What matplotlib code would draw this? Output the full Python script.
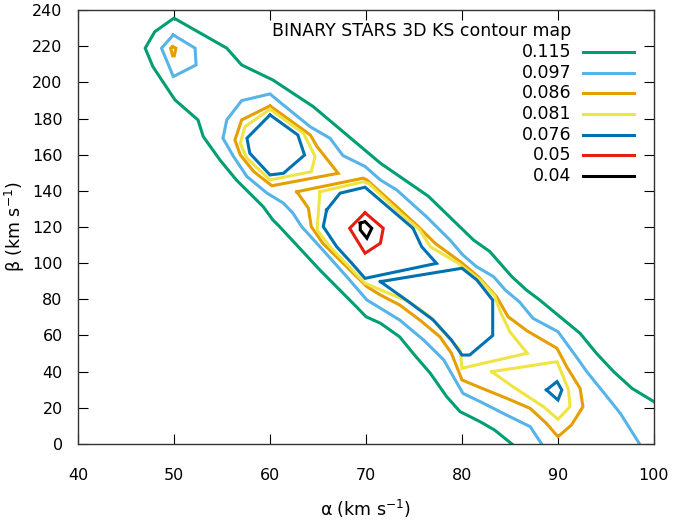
import matplotlib

matplotlib.use("Agg")
import matplotlib.pyplot as plt

plt.rcParams["font.family"] = ["DejaVu Sans"]
plt.rcParams["mathtext.default"] = "regular"

# contour levels and gnuplot-like colours
levels = ["0.115", "0.097", "0.086", "0.081", "0.076", "0.05", "0.04"]
colors = ["#009e73", "#56b4e9", "#e69f00", "#f0e442", "#0072b2", "#e51e10", "#000000"]

# 0.115 (one open curve, bottom edge -> top -> right edge)
green_x = [85.2, 83.4, 81.9, 79.8, 78.4, 76.7, 74.9, 73.5, 71.5, 70.0, 69.0, 65.2, 61.0,
           60.3, 59.3, 57.2, 56.5, 54.8, 53.05, 52.5, 50.1, 49.06, 47.8, 47.0, 48.0, 50.0,
           55.5, 57.05, 60.3, 64.5, 71.5, 76.5, 81.2, 82.9, 85.2, 86.7, 88.1, 90.2, 92.3,
           94.0, 95.8, 97.7, 100.0]
green_y = [0, 7.7, 12.3, 17.9, 26.2, 39.1, 50.2, 59.3, 66.8, 70.4, 75.9, 96.2, 120.2,
           123.9, 131.2, 142.3, 146.0, 157.0, 170.0, 179.2, 190.3, 198.6, 208.7, 218.9, 228.0, 235.5,
           218.9, 209.6, 201.3, 186.6, 155.3, 137.0, 112.8, 106.4, 92.5, 85.2, 79.6, 70.4, 61.2,
           50.2, 40.0, 30.8, 23.4]

# 0.097
lblue_x = [88.3, 87.1, 84.65, 81.9, 80.1, 79.3, 78.1, 76.0, 73.5, 71.5, 70.1, 68.0, 65.2,
           63.3, 62.4, 61.4, 59.7, 57.6, 56.2, 55.1, 55.5, 57.05, 60.0, 61.2, 64.2, 66.25,
           67.6, 69.9, 71.5, 73.2, 76.3, 78.75, 80.1, 81.5, 83.3, 84.5, 86.0, 87.4, 90.0,
           91.9, 93.0, 95.1, 96.5, 98.5]
lblue_y = [0, 9.6, 16.0, 23.4, 28.0, 35.4, 46.5, 57.5, 68.6, 75.1, 79.6, 92.5, 109.1,
           120.2, 127.6, 133.2, 138.7, 147.9, 159.0, 169.1, 179.2, 189.9, 193.6, 188.3, 175.4, 169.1,
           159.5, 153.5, 146.0, 140.5, 125.7, 112.8, 104.5, 98.1, 92.5, 85.2, 78.5, 69.5, 62.1,
           48.3, 40.0, 26.2, 16.9, 0]
lblue_top_x = [49.93, 48.7, 49.93, 52.3, 52.2, 49.93]
lblue_top_y = [226.2, 218.9, 203.2, 209.6, 218.9, 226.2]

# 0.086
orange_top_x = [49.86, 50.2, 50.03, 49.86, 49.65, 49.86]
orange_top_y = [219.7, 218.9, 214.6, 214.6, 218.9, 219.7]
orange_up_x = [60.0, 64.2, 64.9, 67.1, 60.2, 58.3, 56.9, 56.35, 57.05, 60.0]
orange_up_y = [187.0, 170.9, 164.5, 149.7, 142.8, 150.7, 159.9, 168.1, 179.2, 187.0]
orange_main_x = [62.8, 69.7, 70.1, 73.2, 75.45, 77.2, 79.9, 81.7, 83.6, 84.8, 86.8, 89.9,
                 90.9, 92.3, 92.6, 91.4, 90.0, 88.8, 87.1, 84.65, 81.9, 80.0, 78.9, 77.7,
                 75.6, 73.5, 71.5, 70.1, 65.5, 64.3, 64.0, 62.8]
orange_main_y = [139.5, 147.0, 146.0, 131.2, 120.2, 111.0, 100.5, 92.5, 81.5, 70.4, 62.5, 52.9,
                 42.8, 30.8, 20.6, 10.5, 4.0, 11.4, 19.7, 25.3, 31.2, 35.4, 50.2, 59.3,
                 68.6, 76.9, 82.4, 87.0, 111.0, 120.2, 130.4, 139.5]

# 0.081
yellow_up_x = [60.0, 63.5, 64.7, 64.3, 60.0, 57.6, 56.9, 57.4, 60.0]
yellow_up_y = [185.1, 171.8, 159.0, 150.6, 146.0, 158.0, 166.3, 175.5, 185.1]
yellow_main_x = [65.2, 69.7, 70.3, 73.2, 75.6, 76.7, 79.6, 81.9, 83.4, 84.0, 85.0, 86.8,
                 80.0, 79.8, 78.2, 76.7, 74.4, 72.8, 69.9, 66.25, 64.9, 65.2]
yellow_main_y = [139.5, 145.0, 144.0, 129.4, 118.4, 109.1, 100.0, 90.7, 82.0, 73.0, 62.0, 50.2,
                 41.9, 52.0, 61.2, 70.4, 79.0, 82.4, 88.9, 109.1, 118.4, 139.5]
yellow_low_x = [83.1, 89.9, 90.4, 91.1, 91.25, 90.0, 88.5, 85.3, 83.1]
yellow_low_y = [40.0, 45.5, 39.1, 29.9, 20.6, 13.7, 20.6, 31.7, 40.0]

# 0.076
blue_up_x = [60.0, 62.9, 63.6, 61.4, 60.0, 57.9, 57.6, 60.0]
blue_up_y = [182.0, 170.9, 159.8, 149.7, 148.8, 160.8, 169.1, 182.0]
blue_mid_x = [65.9, 67.3, 69.9, 74.9, 75.8, 77.35, 69.9, 68.5, 66.95, 65.55, 65.9]
blue_mid_y = [129.4, 138.7, 142.0, 119.3, 109.1, 99.9, 91.6, 100.1, 109.1, 120.2, 129.4]
blue_low_x = [71.5, 80.0, 81.55, 83.2, 83.2, 80.8, 80.0, 78.9, 77.0, 74.2, 71.5]
blue_low_y = [89.8, 97.2, 90.7, 79.6, 60.0, 49.2, 49.2, 57.5, 68.6, 79.6, 89.8]
blue_small_x = [88.8, 89.9, 90.4, 90.0, 88.8]
blue_small_y = [29.9, 34.5, 29.9, 24.3, 29.9]

# 0.05 and 0.04
red_x = [69.9, 68.3, 69.9, 71.5, 71.8, 69.9]
red_y = [127.9, 119.3, 105.5, 111.0, 119.3, 127.9]
black_x = [69.4, 69.9, 70.6, 70.1, 69.4, 69.4]
black_y = [122.1, 123.0, 119.3, 113.8, 118.4, 122.1]

curves = [
    (0, green_x, green_y),
    (1, lblue_x, lblue_y), (1, lblue_top_x, lblue_top_y),
    (2, orange_top_x, orange_top_y), (2, orange_up_x, orange_up_y), (2, orange_main_x, orange_main_y),
    (3, yellow_up_x, yellow_up_y), (3, yellow_main_x, yellow_main_y), (3, yellow_low_x, yellow_low_y),
    (4, blue_up_x, blue_up_y), (4, blue_mid_x, blue_mid_y), (4, blue_low_x, blue_low_y),
    (4, blue_small_x, blue_small_y),
    (5, red_x, red_y), (6, black_x, black_y),
]

fs = 12.5

fig = plt.figure(figsize=(6.74, 5.21), dpi=100)
ax = fig.add_axes([0.1157, 0.1478, 0.8546, 0.833])

for i, xs, ys in curves:
    ax.plot(xs, ys, color=colors[i], lw=2.2, solid_joinstyle="miter")

ax.set_xlim(40, 100)
ax.set_ylim(0, 240)
ax.set_xticks(range(40, 101, 10))
ax.set_yticks(range(0, 241, 20))
ax.tick_params(direction="in", length=7, width=0.8, top=True, right=True, labelsize=11.5)
ax.tick_params(axis="y", pad=11)
ax.tick_params(axis="x", pad=17)
for s in ax.spines.values():
    s.set_linewidth(1.0)
    s.set_color("#333333")

ax.set_xlabel("α (km s$^{-1}$)", fontsize=fs, labelpad=11)
ax.set_ylabel("β (km s$^{-1}$)", fontsize=fs, labelpad=4)

# key in gnuplot style: text right aligned, sample line to its right
ax.text(0.856, 0.9523, "BINARY STARS 3D KS contour map", transform=ax.transAxes,
        ha="right", va="center", fontsize=fs)
row_y = [0.9039, 0.8555, 0.8088, 0.7611, 0.7127, 0.6659, 0.6175]
for lab, c, yy in zip(levels, colors, row_y):
    ax.text(0.856, yy, lab, transform=ax.transAxes, ha="right", va="center", fontsize=fs)
    ax.plot([0.877, 0.965], [yy, yy], transform=ax.transAxes, color=c, lw=2.2)

fig.savefig("out.png", dpi=100)
plt.close(fig)
